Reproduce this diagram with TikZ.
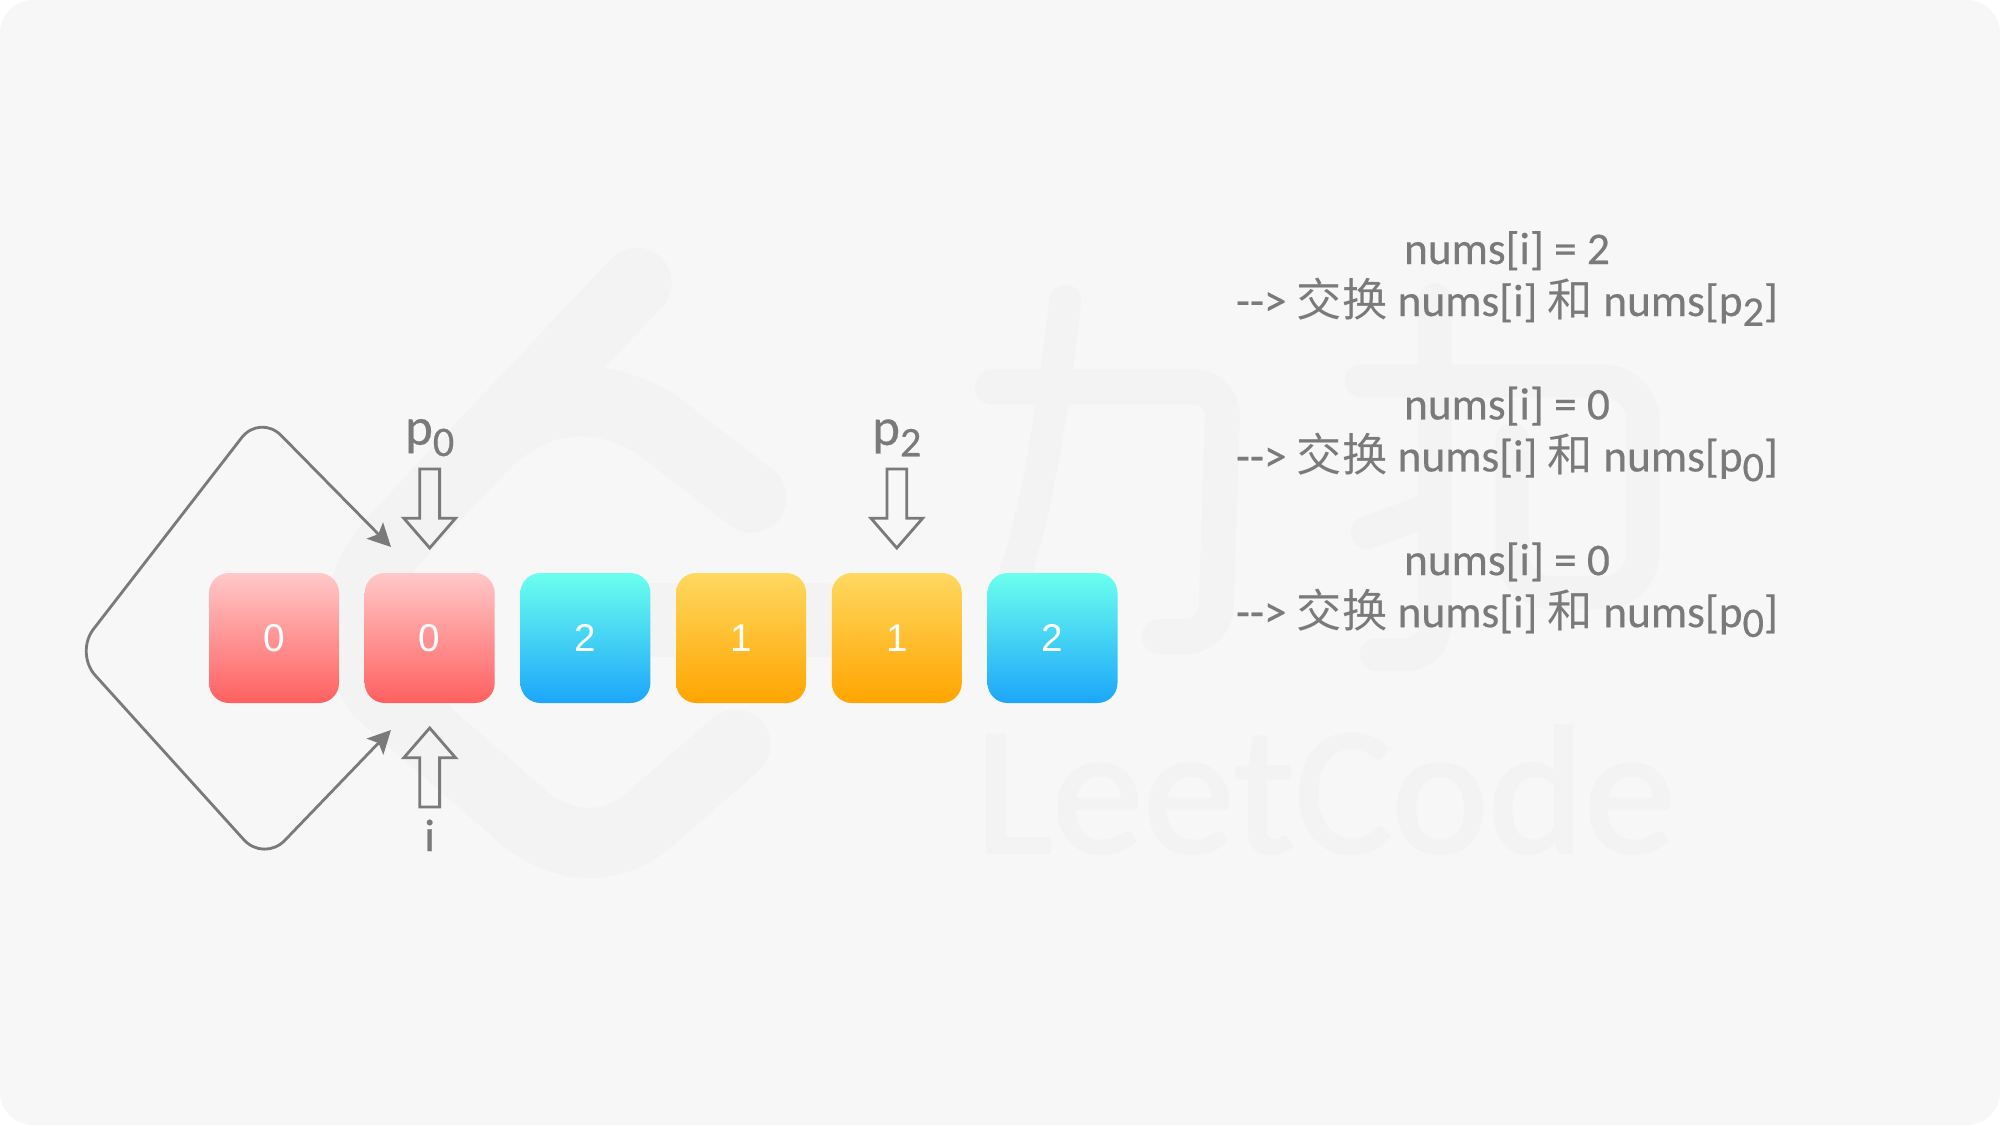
\documentclass[tikz,border=0pt]{standalone}
\usepackage{fontspec}
\setmainfont[FakeBold=0.4]{Carlito}
\newfontfamily\cjk{Noto Sans CJK SC}
\newfontfamily\digitfont{Liberation Sans}
\newfontfamily\wordfont[FakeBold=1.6]{Carlito}
\usetikzlibrary{shapes.arrows,arrows.meta,positioning}
\definecolor{bgcol}{HTML}{F7F7F7}
\definecolor{markcol}{HTML}{F3F3F3}
\definecolor{inkcol}{HTML}{7A7A7A}
\definecolor{redtop}{HTML}{FFC8C8}
\definecolor{redbot}{HTML}{FF6060}
\definecolor{bluetop}{HTML}{6CFFEE}
\definecolor{bluebot}{HTML}{1CA6FA}
\definecolor{orangetop}{HTML}{FFD860}
\definecolor{orangebot}{HTML}{FFA500}
\newcommand{\pidx}[1]{\raisebox{-0.45ex}{\fontsize{12}{12}\selectfont #1}}
\begin{document}
\begin{tikzpicture}[node distance=0.257cm,
    cell/.style={rectangle,rounded corners=0.2cm,minimum size=1.3cm,inner sep=0,outer sep=0,text=white,font=\digitfont\fontsize{11}{12}\selectfont},
    redcell/.style={cell,top color=redtop,bottom color=redbot},
    bluecell/.style={cell,top color=bluetop,bottom color=bluebot},
    orangecell/.style={cell,top color=orangetop,bottom color=orangebot},
    hollow/.style={single arrow,draw=inkcol,line width=0.8pt,fill=none,inner sep=0,outer sep=0,text width=0.17cm,minimum height=0.79cm,minimum width=0.49cm,single arrow head extend=0.16cm,single arrow tip angle=82},
    ptr/.style={text=inkcol,font=\fontsize{15}{15}\selectfont,inner sep=0},
    note/.style={text=inkcol,align=center,inner sep=0,font=\fontsize{12.9}{14.8}\selectfont},
    wmark/.style={draw=markcol,line cap=round,line join=round},
    loopline/.style={<->,>={Stealth[length=0.23cm,width=0.23cm,inset=0.05cm]},inkcol,line width=0.8pt,rounded corners=0.3cm}]
    \useasboundingbox (0,0) rectangle (20,11.25);
    \fill[bgcol,rounded corners=0.33cm] (0,0) rectangle (20,11.25);
    % watermark
    \begin{scope}[shift={(0,11.25)},x=0.01cm,y=-0.01cm]
    \draw[wmark,line width=0.7cm] (637,283) -- (400,534) .. controls (350,585) and (350,650) .. (380,693) -- (530,823) .. controls (570,850) and (610,850) .. (644,825) -- (736,745);
    \draw[wmark,line width=0.7cm] (484,445) .. controls (530,400) and (590,385) .. (656,424) -- (752,498);
    \draw[wmark,line width=0.74cm] (567,620) -- (823,620);
    \draw[wmark,line width=0.35cm,rounded corners=0.3cm] (993,387) -- (1224,387) -- (1216,637) -- (1160,637);
    \draw[wmark,line width=0.32cm] (1066,301) .. controls (1056,385) and (1040,519) .. (1003,610);
    \draw[wmark,line width=0.33cm,rounded corners=0.3cm] (1436,300) -- (1436,655) -- (1377,655);
    \draw[wmark,line width=0.33cm] (1368,533) -- (1430,510);
    \draw[wmark,line width=0.33cm,rounded corners=0.4cm] (1362,381) -- (1644,381) -- (1644,593) -- (1513,593) -- (1513,440);
    \node[text=markcol,font=\wordfont\fontsize{52}{60}\selectfont,inner sep=0] (wordmark) at (1326,790) {LeetCode};
    \end{scope}
    % cells
    \node[redcell] (c1) at (2.74,4.87) {0};
    \node[redcell,right=of c1] (c2) {0};
    \node[bluecell,right=of c2] (c3) {2};
    \node[orangecell,right=of c3] (c4) {1};
    \node[orangecell,right=of c4] (c5) {1};
    \node[bluecell,right=of c5] (c6) {2};
    % pointers
    \node[hollow,shape border rotate=270,above=0.25cm of c2] (a0) {};
    \node[hollow,shape border rotate=270,above=0.25cm of c5] (a2) {};
    \node[hollow,shape border rotate=90,below=0.25cm of c2] (ai) {};
    \node[ptr,above=0.12cm of a0] (p0) {p\pidx{0}};
    \node[ptr,above=0.12cm of a2] (p2) {p\pidx{2}};
    \node[ptr,font=\fontsize{13}{13}\selectfont,below=0.12cm of ai] (pi) {i};
    % loop
    \coordinate (loopa) at (3.91,5.78);
    \coordinate (loopb) at (3.91,3.95);
    \draw[loopline] (loopb) -- (2.64,2.63) -- (0.75,4.72) -- (2.60,7.11) -- (loopa);
    % notes
    \node[note] (n1) at (15.07,8.465) {nums[i] = 2\\-{}-> {\cjk 交换} nums[i] {\cjk 和} nums[p\pidx{2}]};
    \node[note,below=0.595cm of n1] (n2) {nums[i] = 0\\-{}-> {\cjk 交换} nums[i] {\cjk 和} nums[p\pidx{0}]};
    \node[note,below=0.595cm of n2] (n3) {nums[i] = 0\\-{}-> {\cjk 交换} nums[i] {\cjk 和} nums[p\pidx{0}]};
\end{tikzpicture}
\end{document}
